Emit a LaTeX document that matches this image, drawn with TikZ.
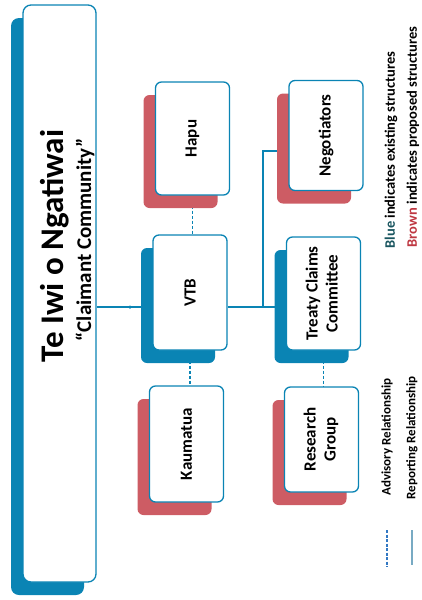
\documentclass[tikz,border=0pt]{standalone}
\usepackage{fontspec}
\setmainfont{Carlito}
\usetikzlibrary{shadows}
\definecolor{bl}{RGB}{10,132,180}
\definecolor{rd}{RGB}{205,92,100}
\definecolor{lbl}{RGB}{120,170,195}
\definecolor{adv}{RGB}{50,120,195}
\definecolor{bluetxt}{RGB}{25,85,95}
\definecolor{browntxt}{RGB}{190,55,65}
\pgfdeclarelayer{background}
\pgfsetlayers{background,main}
\begin{document}
\begin{tikzpicture}[x=1pt,y=-1pt,
  box/.style={draw=bl, line width=1.3pt, fill=white, rounded corners=6pt,
    minimum width=74pt, minimum height=113pt, inner sep=0pt,
    font=\bfseries\fontsize{17}{20}\selectfont, align=center},
  bshadow/.style={drop shadow={shadow xshift=-12pt,shadow yshift=-13pt,fill=bl,opacity=1}},
  rshadow/.style={drop shadow={shadow xshift=-12pt,shadow yshift=-13pt,fill=rd,opacity=1}},
  link/.style={draw=bl, line width=1.2pt},
  advlink/.style={draw=bl, line width=1.2pt, dash pattern=on 3pt off 2pt},
  legtext/.style={rotate=90, font=\bfseries\fontsize{13}{15}\selectfont, inner sep=0pt},
  keytext/.style={rotate=90, font=\bfseries\fontsize{14.5}{16}\selectfont, inner sep=0pt}
]
\useasboundingbox (0,0) rectangle (421,600);

% big box
\node[box,bshadow,minimum width=73pt,minimum height=577pt,rounded corners=8pt] (big) at (59.5,293.5) {};
\node[rotate=90,font=\bfseries\fontsize{33}{36}\selectfont,inner sep=0pt] (title) at (55,246) {Te Iwi o Ngatiwai};
\node[rotate=90,font=\bfseries\fontsize{21}{24}\selectfont,inner sep=0pt] (claim) at (85,240) {“Claimant Community”};

% boxes
\node[box,rshadow] (hapu) at (192.5,138.5) {\rotatebox{90}{Hapu}};
\node[box,bshadow,minimum height=115pt] (vtb) at (190,292.5) {\rotatebox{90}{VTB}};
\node[box,rshadow,minimum height=116pt] (kaum) at (186.5,444) {\rotatebox{90}{Kaumatua}};
\node[box,rshadow,minimum height=110pt] (nego) at (326,135.5) {\rotatebox{90}{Negotiators}};
\node[box,bshadow] (tcc) at (323.5,293.5) {\rotatebox{90}{\begin{tabular}{@{}c@{}}Treaty Claims\\Committee\end{tabular}}};
\node[box,rshadow,minimum height=105pt] (res) at (321.5,439.5) {\rotatebox{90}{\begin{tabular}{@{}c@{}}Research\\Group\end{tabular}}};

% connectors
\coordinate (j) at (263,307);
\coordinate (n) at (263,151);
\begin{pgfonlayer}{background}
\draw[link] (big.east |- j) -- (vtb.west |- j);
\draw[link] (vtb.east |- j) -- (tcc.west |- j);
\draw[link] (j) -- (n) -- (nego.west |- n);
\draw[advlink] (hapu.south) -- (hapu.south |- vtb.north);
\draw[advlink] (vtb.south) -- (vtb.south |- kaum.north);
\draw[advlink] (tcc.south) -- (tcc.south |- res.north);
\end{pgfonlayer}
\node[circle,fill=bl,inner sep=0pt,minimum size=3.5pt] (dot) at (130,307) {};

% legend
\node[legtext] (advt) at (387,437) {Advisory Relationship};
\node[legtext] (rept) at (412,438) {Reporting Relationship};
\coordinate (a1) at (387,530);
\coordinate (a2) at (387,567);
\coordinate (r1) at (412,530);
\coordinate (r2) at (412,565);
\draw[draw=adv,line width=2pt,dash pattern=on 3pt off 1.5pt] (a1) -- (a2);
\draw[draw=lbl,line width=2.5pt] (r1) -- (r2);
\node[keytext] (lb) at (391,150) {\textcolor{bluetxt}{Blue} indicates existing structures};
\node[keytext] (lr) at (413,137) {\textcolor{browntxt}{Brown} indicates proposed structures};
\end{tikzpicture}
\end{document}
